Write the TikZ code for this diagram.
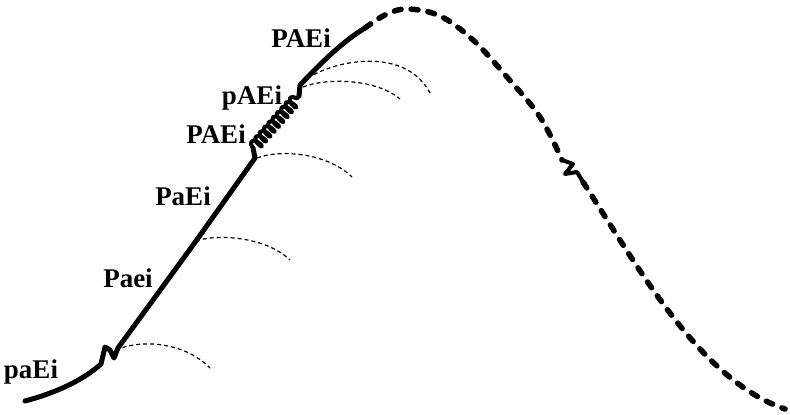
\documentclass[tikz,border=0pt]{standalone}
\usepackage{fontspec}
\setmainfont{Liberation Serif}
\usetikzlibrary{decorations.pathmorphing}

\begin{document}
\begin{tikzpicture}[x=1pt,y=-1pt,line join=round,
 stage/.style={font=\bfseries\fontsize{27}{32}\selectfont,inner sep=0pt},
 track/.style={line width=5pt,line cap=round},
 future/.style={line width=5.5pt,line cap=round,dash pattern=on 7pt off 10pt},
 kink/.style={line width=4pt,line cap=round},
 branch/.style={line width=1.2pt,dash pattern=on 4pt off 3pt},
 spring/.style={line width=4pt,decorate,decoration={coil,amplitude=5.5pt,segment length=6.5pt,aspect=0.4}}]
\useasboundingbox (0,0) rectangle (790,415);

% points along the track
\coordinate (start) at (25,401);
\coordinate (kinkA) at (101,364);
\coordinate (kinkB) at (118,348);
\coordinate (mid) at (196,241);
\coordinate (coilA) at (255,158);
\coordinate (coilA2) at (253,148);
\coordinate (coilB2) at (299,96);
\coordinate (coilB) at (300,85);
\coordinate (solidEnd) at (365,28);
\coordinate (peak) at (407,9);
\coordinate (kinkC) at (562,160);
\coordinate (kinkD) at (583,182);
\coordinate (finish) at (785,409);

% solid part
\draw[track] (start) .. controls (55,393) and (82,381) .. (kinkA) -- ++(4,-17) -- ++(5,3) -- ++(4,8) -- (kinkB) -- (mid) -- (coilA) -- (coilA2);
\draw[spring] (coilA2) -- (coilB2);
\draw[track] (coilB2) -- (coilB) .. controls (322,62) and (342,42) .. (solidEnd);

% dashed part
\draw[future] plot[smooth,tension=0.6] coordinates {(solidEnd) (385,15) (peak) (440,16) (473,40) (507,77) (540,117) (kinkC)};
\draw[kink] (kinkC) -- ++(11,4) -- ++(-8,10) -- ++(12,-2) -- (kinkD);
\draw[future] (kinkD) .. controls (640,270) and (700,380) .. (finish);

% branches
\coordinate (tipA) at (210,368);
\coordinate (tipB) at (290,260);
\coordinate (tipC) at (352,177);
\coordinate (tipD) at (430,93);
\coordinate (tipE) at (400,99);
\draw[branch] (kinkB) ++(-2,2) .. controls (138,340) and (182,340) .. (tipA);
\draw[branch] (mid) .. controls (216,234) and (265,236) .. (tipB);
\draw[branch] (coilA) ++(2,0) .. controls (277,150) and (325,151) .. (tipC);
\draw[branch] (coilB) ++(2,-3) .. controls (330,60) and (405,45) .. (tipD);
\draw[branch] (coilB) ++(3,2) .. controls (325,78) and (375,78) .. (tipE);

% labels
\node[stage] (s1) at (31,372) {paEi};
\node[stage] (s2) at (128,278) {Paei};
\node[stage] (s3) at (183,196) {PaEi};
\node[stage] (s4) at (216,134) {PAEi};
\node[stage] (s5) at (252,98) {pAEi};
\node[stage] (s6) at (301,38) {PAEi};
\end{tikzpicture}
\end{document}
